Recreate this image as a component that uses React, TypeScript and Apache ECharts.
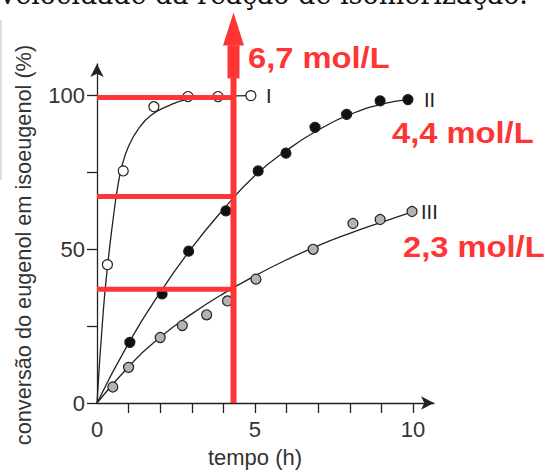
import React, { useEffect, useRef } from "react";
import * as echarts from "echarts";

// ---- texts ----
const titleText = "velocidade da reação de isomerização.";
const xAxisTitle = "tempo (h)";
const yAxisTitle = "conversão do eugenol em isoeugenol (%)";
const seriesNames = ["I", "II", "III"];
const concentrationLabels = ["6,7 mol/L", "4,4 mol/L", "2,3 mol/L"];

// ---- axes ----
const xTicks = [1, 2, 3, 4, 5, 6, 7, 8, 9, 10];
const xLabels = [0, 5, 10];
const yTicks = [0, 25, 50, 75, 100];
const yLabels = [0, 50, 100];

// ---- measured points [tempo (h), conversão (%)] ----
const pointsI = [
  [0.33, 45], [0.83, 75.5], [1.8, 96.4], [2.88, 99.7], [3.83, 99.7], [4.87, 100],
];
const pointsII = [
  [1.04, 19.7], [2.06, 35.5], [2.9, 49.4], [4.08, 62.5], [5.1, 75.5],
  [5.98, 81.3], [6.9, 89.7], [7.9, 93.9], [8.96, 98.3], [9.84, 98.7],
];
const pointsIII = [
  [0.5, 5.2], [1.0, 11.6], [2.0, 21.3], [2.7, 25.2], [3.47, 28.7], [4.13, 33.2],
  [5.03, 40.3], [6.84, 50], [8.1, 58.4], [8.96, 59.7], [9.97, 62.3],
];

// ---- fitted curves ----
const curveI = [
  [0, 0], [0.2, 30], [0.35, 46], [0.5, 59], [0.65, 70], [0.8, 77.5], [1, 83.5],
  [1.3, 89], [1.7, 93.5], [2.2, 96.4], [2.85, 98.8], [3.8, 99.7], [4.87, 100],
];
const curveII = [
  [0, 0], [1, 19.5], [2, 36], [3, 50.5], [4, 63], [5, 74], [6, 82.2],
  [7, 88.8], [8, 93.8], [9, 97.2], [9.84, 98.7],
];
const curveIII = [
  [0, 0], [1, 11.8], [2, 21.4], [3, 29], [4, 35.6], [5, 41.4], [6, 46.6],
  [7, 51.2], [8, 55.2], [9, 58.8], [9.97, 62.2],
];

// ---- red annotation (reading at t = 4.32 h) ----
const markTime = 4.32;
const markLevels = [99.4, 67.2, 37.0];
const arrowShaftTop = 106.1;
const arrowCollarTop = 116.4;
const arrowHeadCenter = 121.7;

export default function App() {
  const ref = useRef<HTMLDivElement>(null);

  useEffect(() => {
    if (!ref.current) return;
    const chart = echarts.init(ref.current, null, { renderer: "svg" });
    const black = "#222";
    const grey = "#333";
    const red = "#ff3535";
    const font = "'Liberation Sans', Arial, sans-serif";

    const curve = (name: string, data: number[][], dist: number) => ({
      type: "line",
      name,
      data,
      smooth: 0.5,
      symbol: "none",
      silent: true,
      z: 2,
      lineStyle: { color: black, width: 1.3 },
      endLabel: {
        show: true,
        formatter: name,
        position: "right",
        distance: dist,
        color: black,
        fontSize: 20,
        fontFamily: font,
      },
    });

    const points = (data: number[][], fill: string) => ({
      type: "scatter",
      data,
      symbol: "circle",
      symbolSize: 10,
      silent: true,
      z: 3,
      itemStyle: { color: fill, borderColor: black, borderWidth: 1.2, opacity: 1 },
    });

    const redLine = (data: number[][], width: number) => ({
      type: "line",
      data,
      symbol: "none",
      clip: false,
      silent: true,
      z: 5,
      lineStyle: { color: red, width, cap: "butt" },
    });

    const redTexts = [
      { text: concentrationLabels[0], x: 248, y: 57.5 },
      { text: concentrationLabels[1], x: 392, y: 133 },
      { text: concentrationLabels[2], x: 403, y: 247 },
    ];

    chart.setOption({
      animation: false,
      backgroundColor: "#fff",
      grid: { left: 97, top: 64, width: 337, height: 343 },
      xAxis: {
        type: "value",
        min: 0,
        max: 10.665,
        splitLine: { show: false },
        axisLine: {
          show: true,
          symbol: ["none", "arrow"],
          symbolSize: [10, 13],
          lineStyle: { color: black, width: 1.3 },
        },
        axisTick: {
          show: true,
          length: 10,
          customValues: xTicks,
          lineStyle: { color: black, width: 1.3 },
        },
        axisLabel: {
          customValues: xLabels,
          fontSize: 22,
          color: grey,
          margin: 15,
          fontFamily: font,
        },
        name: xAxisTitle,
        nameLocation: "middle",
        nameGap: 43,
        nameTextStyle: { fontSize: 22, color: grey, fontFamily: font, padding: [0, 21, 0, 0] },
      },
      yAxis: {
        type: "value",
        min: 0,
        max: 110.29,
        splitLine: { show: false },
        axisLine: {
          show: true,
          symbol: ["none", "arrow"],
          symbolSize: [10, 13],
          lineStyle: { color: black, width: 1.3 },
        },
        axisTick: {
          show: true,
          length: 10,
          customValues: yTicks,
          lineStyle: { color: black, width: 1.3 },
        },
        axisLabel: {
          customValues: yLabels,
          fontSize: 22,
          color: grey,
          margin: 12,
          fontFamily: font,
        },
        name: yAxisTitle,
        nameLocation: "middle",
        nameGap: 63,
        nameTextStyle: { fontSize: 21.7, color: grey, fontFamily: font, padding: [0, 23, 0, 0] },
      },
      series: [
        curve(seriesNames[0], curveI, 15),
        curve(seriesNames[1], curveII, 16),
        curve(seriesNames[2], curveIII, 9),
        points(pointsI, "#ffffff"),
        points(pointsII, "#111111"),
        points(pointsIII, "#b4b4b4"),
        ...markLevels.map((lv) => redLine([[0, lv], [markTime, lv]], 5)),
        redLine([[markTime, 0], [markTime, arrowShaftTop]], 6),
        redLine([[markTime, arrowShaftTop - 0.5], [markTime, arrowCollarTop]], 12),
        {
          type: "scatter",
          data: [[markTime, arrowHeadCenter]],
          symbol: "triangle",
          symbolSize: [21, 33],
          clip: false,
          silent: true,
          z: 6,
          itemStyle: { color: red, opacity: 1 },
        },
      ],
      graphic: [
        {
          type: "text",
          x: 0,
          y: -6,
          style: {
            text: titleText,
            fill: "#111",
            font: "27px 'DejaVu Serif', serif",
            verticalAlign: "middle",
          },
        },
        {
          type: "line",
          shape: { x1: 1, y1: 20, x2: 1, y2: 180 },
          style: { stroke: "#d4d4d4", lineWidth: 1.5 },
        },
        ...redTexts.map((t) => ({
          type: "text",
          x: t.x,
          y: t.y,
          scaleX: 1.09,
          z: 10,
          style: {
            text: t.text,
            fill: red,
            font: "bold 30px 'Liberation Sans', Arial, sans-serif",
            verticalAlign: "middle",
          },
        })),
      ],
    });

    return () => chart.dispose();
  }, []);

  return (
    <div
      ref={ref}
      style={{ position: "fixed", left: 0, top: 0, width: 545, height: 473, background: "#fff" }}
    />
  );
}
